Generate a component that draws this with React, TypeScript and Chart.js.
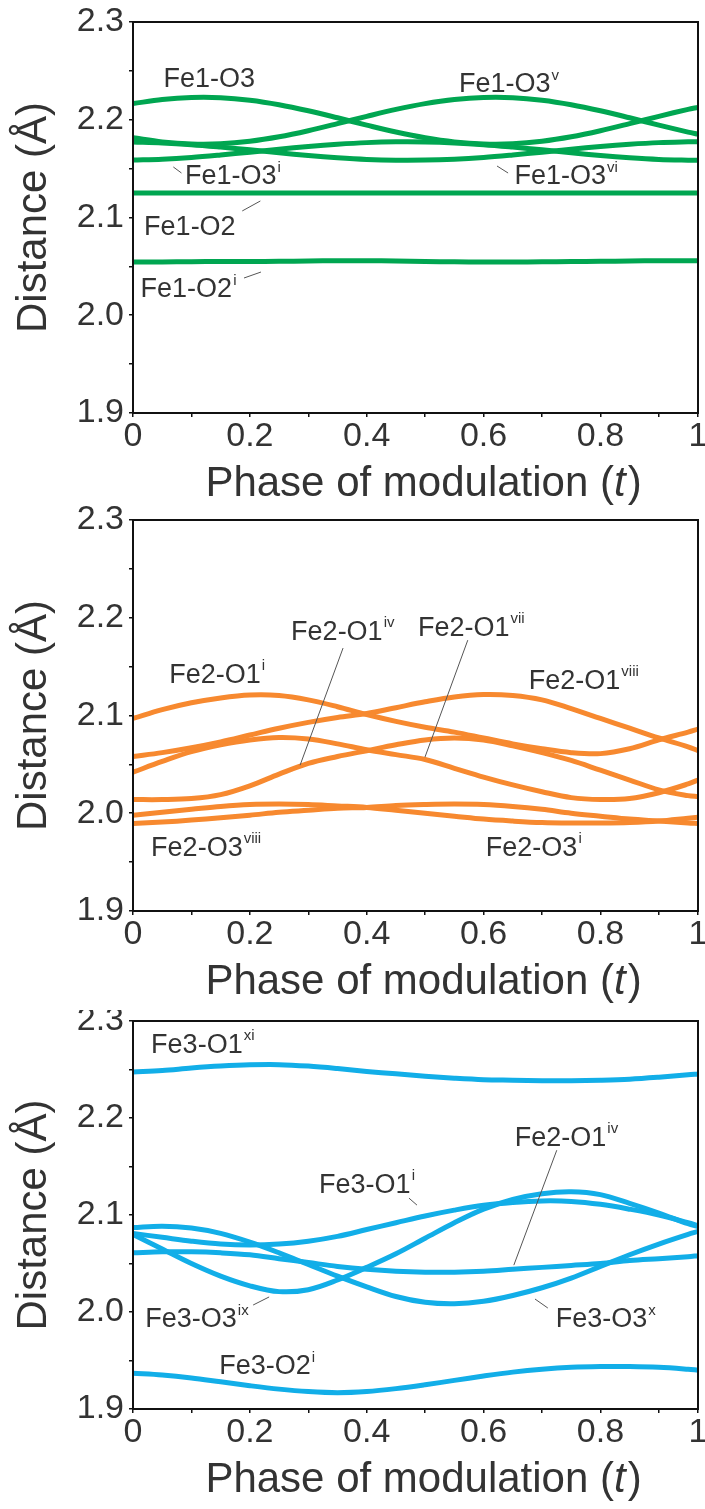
import { useEffect, useRef } from 'react';
import { Chart, registerables } from 'chart.js';

Chart.register(...registerables);

const FONT = '"Liberation Sans", Arial, Helvetica, sans-serif';
const TEXT = '#333333';

// Phase of modulation t at which the distances are sampled; the plotted window ends at T_END
const T = [0, 0.05, 0.1, 0.15, 0.2, 0.25, 0.3, 0.35, 0.4, 0.45, 0.5, 0.55, 0.6, 0.65, 0.7, 0.75, 0.8, 0.85, 0.9, 0.95, 0.967];
const T_END = 0.967;

const Y_TICKS = [1.9, 1.95, 2.0, 2.05, 2.1, 2.15, 2.2, 2.25, 2.3];
const X_TICKS = [0, 0.1, 0.2, 0.3, 0.4, 0.5, 0.6, 0.7, 0.8, 0.9, T_END];

// Fe1 octahedron (Å)
const FE1_O3 = [2.2165, 2.2207, 2.2228, 2.2226, 2.22, 2.2154, 2.2092, 2.202, 2.1945, 2.1874, 2.1815, 2.1773, 2.1752, 2.1754, 2.178, 2.1826, 2.1888, 2.196, 2.2035, 2.2106, 2.2127];
const FE1_O3_V = [2.1815, 2.1773, 2.1752, 2.1754, 2.178, 2.1826, 2.1888, 2.196, 2.2035, 2.2106, 2.2165, 2.2207, 2.2228, 2.2226, 2.22, 2.2154, 2.2092, 2.202, 2.1945, 2.1874, 2.1853];
const FE1_O3_VI = [2.1773, 2.1763, 2.1745, 2.172, 2.1692, 2.1662, 2.1634, 2.1611, 2.1594, 2.1586, 2.1587, 2.1597, 2.1615, 2.164, 2.1668, 2.1698, 2.1726, 2.1749, 2.1766, 2.1774, 2.1775];
const FE1_O3_I = [2.1587, 2.1597, 2.1615, 2.164, 2.1668, 2.1698, 2.1726, 2.1749, 2.1766, 2.1774, 2.1773, 2.1763, 2.1745, 2.172, 2.1692, 2.1662, 2.1634, 2.1611, 2.1594, 2.1586, 2.1585];
const FE1_O2 = [2.125, 2.125, 2.125, 2.125, 2.125, 2.125, 2.125, 2.125, 2.125, 2.125, 2.125, 2.125, 2.125, 2.125, 2.125, 2.125, 2.125, 2.125, 2.125, 2.125, 2.125];
const FE1_O2_I = [2.0545, 2.0545, 2.0548, 2.055, 2.055, 2.0552, 2.0555, 2.0558, 2.0558, 2.0555, 2.055, 2.0547, 2.0545, 2.0545, 2.0547, 2.055, 2.0552, 2.0555, 2.0558, 2.0558, 2.0558];

// Fe2 octahedron (Å)
const FE2_O1_I = [2.097, 2.106, 2.113, 2.118, 2.121, 2.1205, 2.116, 2.109, 2.101, 2.094, 2.088, 2.083, 2.077, 2.071, 2.066, 2.062, 2.061, 2.066, 2.075, 2.083, 2.086];
const FE2_O1_VIII = [2.058, 2.062, 2.067, 2.073, 2.08, 2.087, 2.093, 2.098, 2.102, 2.108, 2.114, 2.119, 2.1215, 2.1205, 2.116, 2.107, 2.097, 2.087, 2.077, 2.068, 2.064];
const FE2_O1_VII = [2.042, 2.053, 2.063, 2.07, 2.075, 2.0775, 2.076, 2.071, 2.065, 2.06, 2.055, 2.046, 2.037, 2.029, 2.022, 2.016, 2.014, 2.015, 2.021, 2.03, 2.034];
const FE2_O1_IV = [2.014, 2.014, 2.015, 2.019, 2.028, 2.04, 2.051, 2.058, 2.064, 2.07, 2.075, 2.077, 2.075, 2.069, 2.062, 2.054, 2.044, 2.034, 2.024, 2.018, 2.017];
const FE2_O3_VIII = [1.998, 2.001, 2.004, 2.007, 2.009, 2.0095, 2.009, 2.0075, 2.006, 2.003, 2.0, 1.997, 1.994, 1.992, 1.9905, 1.99, 1.99, 1.9905, 1.992, 1.995, 1.996];
const FE2_O3_I = [1.9895, 1.991, 1.993, 1.9955, 1.998, 2.001, 2.003, 2.005, 2.006, 2.008, 2.009, 2.0095, 2.009, 2.007, 2.004, 2.0, 1.997, 1.994, 1.992, 1.99, 1.9895];

// Fe3 polyhedron (Å)
const FE3_O1_XI = [2.2475, 2.249, 2.2515, 2.2535, 2.2548, 2.255, 2.2535, 2.251, 2.248, 2.2455, 2.243, 2.241, 2.2395, 2.239, 2.2385, 2.2385, 2.239, 2.24, 2.242, 2.2445, 2.2455];
const FE3_O1_I = [2.081, 2.077, 2.073, 2.07, 2.069, 2.07, 2.073, 2.078, 2.085, 2.092, 2.099, 2.105, 2.11, 2.113, 2.1145, 2.114, 2.111, 2.106, 2.1, 2.092, 2.089];
const FE3_O3_X = [2.087, 2.0885, 2.0865, 2.081, 2.072, 2.061, 2.049, 2.037, 2.026, 2.016, 2.01, 2.0085, 2.011, 2.017, 2.025, 2.035, 2.047, 2.059, 2.07, 2.08, 2.083];
const FE3_O3_IX = [2.08, 2.065, 2.05, 2.037, 2.027, 2.021, 2.023, 2.033, 2.046, 2.06, 2.076, 2.092, 2.106, 2.116, 2.122, 2.124, 2.121, 2.112, 2.102, 2.091, 2.088];
const FE3_FE2_O1_IV = [2.061, 2.062, 2.062, 2.061, 2.059, 2.055, 2.051, 2.047, 2.044, 2.042, 2.041, 2.041, 2.042, 2.044, 2.046, 2.048, 2.05, 2.053, 2.055, 2.057, 2.058];
const FE3_O2_I = [1.9368, 1.935, 1.932, 1.928, 1.924, 1.9205, 1.918, 1.9168, 1.918, 1.921, 1.925, 1.9295, 1.934, 1.938, 1.941, 1.943, 1.9438, 1.9438, 1.943, 1.941, 1.94];

type Note = { text: string; sup: string; t: number; v: number; leader?: [number, number, number, number] };

const FE1_NOTES: Note[] = [
  { text: 'Fe1-O3', sup: '', t: 0.052, v: 2.2407 },
  { text: 'Fe1-O3', sup: 'v', t: 0.558, v: 2.2356 },
  { text: 'Fe1-O3', sup: 'i', t: 0.089, v: 2.1414, leader: [0.069, 2.1517, 0.083, 2.1455] },
  { text: 'Fe1-O3', sup: 'vi', t: 0.653, v: 2.1414, leader: [0.623, 2.1527, 0.642, 2.1455] },
  { text: 'Fe1-O2', sup: '', t: 0.019, v: 2.0893, leader: [0.187, 2.1067, 0.218, 2.1169] },
  { text: 'Fe1-O2', sup: 'i', t: 0.013, v: 2.0258, leader: [0.19, 2.0381, 0.219, 2.0442] },
];

const FE2_NOTES: Note[] = [
  { text: 'Fe2-O1', sup: 'i', t: 0.062, v: 2.1413 },
  { text: 'Fe2-O1', sup: 'iv', t: 0.2706, v: 2.1853, leader: [0.3595, 2.169, 0.286, 2.0492] },
  { text: 'Fe2-O1', sup: 'vii', t: 0.4877, v: 2.1894, leader: [0.573, 2.1771, 0.4997, 2.0574] },
  { text: 'Fe2-O1', sup: 'viii', t: 0.6774, v: 2.1352 },
  { text: 'Fe2-O3', sup: 'viii', t: 0.031, v: 1.9642 },
  { text: 'Fe2-O3', sup: 'i', t: 0.6039, v: 1.9642 },
];

const FE3_NOTES: Note[] = [
  { text: 'Fe3-O1', sup: 'xi', t: 0.031, v: 2.275 },
  { text: 'Fe2-O1', sup: 'iv', t: 0.6535, v: 2.1792, leader: [0.7253, 2.1668, 0.6518, 2.0483] },
  { text: 'Fe3-O1', sup: 'i', t: 0.3185, v: 2.1308, leader: [0.4723, 2.1174, 0.486, 2.1102] },
  { text: 'Fe3-O3', sup: 'ix', t: 0.021, v: 1.9918, leader: [0.2056, 2.0072, 0.233, 2.0155] },
  { text: 'Fe3-O3', sup: 'x', t: 0.7236, v: 1.9918, leader: [0.688, 2.0134, 0.71, 2.0041] },
  { text: 'Fe3-O2', sup: 'i', t: 0.1476, v: 1.9434 },
];

type PanelCfg = {
  top: number;
  height: number;
  areaTop: number;
  areaBottom: number;
  color: string;
  series: number[][];
  notes: Note[];
};

const PANELS: PanelCfg[] = [
  { top: 0, height: 505, areaTop: 22, areaBottom: 413, color: '#00a651', series: [FE1_O3, FE1_O3_V, FE1_O3_VI, FE1_O3_I, FE1_O2, FE1_O2_I], notes: FE1_NOTES },
  { top: 505, height: 505, areaTop: 15, areaBottom: 406, color: '#f7892f', series: [FE2_O1_I, FE2_O1_VIII, FE2_O1_VII, FE2_O1_IV, FE2_O3_VIII, FE2_O3_I], notes: FE2_NOTES },
  { top: 1010, height: 499, areaTop: 11, areaBottom: 399, color: '#12aee8', series: [FE3_O1_XI, FE3_O1_I, FE3_O3_X, FE3_O3_IX, FE3_FE2_O1_IV, FE3_O2_I], notes: FE3_NOTES },
];

const AREA_LEFT = 133;
const AREA_RIGHT = 698;
const WIDTH = 705;

const framePlugin = {
  id: 'frame',
  afterDatasetsDraw(chart: any) {
    const { ctx, chartArea: a } = chart;
    ctx.save();
    ctx.strokeStyle = '#111111';
    ctx.lineWidth = 2;
    ctx.strokeRect(a.left, a.top, a.right - a.left, a.bottom - a.top);
    ctx.restore();
  },
};

const xTitlePlugin = {
  id: 'xTitle',
  afterDraw(chart: any) {
    const { ctx, chartArea: a } = chart;
    const parts: [string, boolean][] = [['Phase of modulation (', false], ['t', true], [')', false]];
    ctx.save();
    ctx.fillStyle = TEXT;
    ctx.textBaseline = 'middle';
    ctx.textAlign = 'left';
    const fontFor = (it: boolean) => `${it ? 'italic ' : ''}42px ${FONT}`;
    let total = 0;
    for (const [s, it] of parts) {
      ctx.font = fontFor(it);
      total += ctx.measureText(s).width;
    }
    let x = (a.left + a.right) / 2 + 7 - total / 2;
    const y = a.bottom + 71;
    for (const [s, it] of parts) {
      ctx.font = fontFor(it);
      ctx.fillText(s, x, y);
      x += ctx.measureText(s).width + (it ? 2 : 0);
    }
    ctx.restore();
  },
};

function notesPlugin(notes: Note[]) {
  return {
    id: 'notes',
    afterDraw(chart: any) {
      const { ctx } = chart;
      const xs = chart.scales.x;
      const ys = chart.scales.y;
      ctx.save();
      for (const n of notes) {
        if (n.leader) {
          const [t1, v1, t2, v2] = n.leader;
          ctx.strokeStyle = '#555555';
          ctx.lineWidth = 1;
          ctx.beginPath();
          ctx.moveTo(xs.getPixelForValue(t1), ys.getPixelForValue(v1));
          ctx.lineTo(xs.getPixelForValue(t2), ys.getPixelForValue(v2));
          ctx.stroke();
        }
        const px = xs.getPixelForValue(n.t);
        const py = ys.getPixelForValue(n.v);
        ctx.fillStyle = TEXT;
        ctx.textBaseline = 'middle';
        ctx.textAlign = 'left';
        ctx.font = `27px ${FONT}`;
        ctx.fillText(n.text, px, py);
        if (n.sup) {
          const w = ctx.measureText(n.text).width;
          ctx.font = `15px ${FONT}`;
          ctx.fillText(n.sup, px + w + 1, py - 9);
        }
      }
      ctx.restore();
    },
  };
}

function Panel({ cfg }: { cfg: PanelCfg }) {
  const ref = useRef<HTMLCanvasElement>(null);

  useEffect(() => {
    const canvas = ref.current;
    if (!canvas) return;
    const xAxisHeight = cfg.height - cfg.areaBottom;
    const chart = new Chart(canvas, {
      type: 'line',
      data: {
        datasets: cfg.series.map((vals) => ({
          data: T.map((t, i) => ({ x: t, y: vals[i] })),
          borderColor: cfg.color,
          borderWidth: 5,
          pointRadius: 0,
          tension: 0.35,
          fill: false,
        })),
      },
      options: {
        animation: false,
        responsive: false,
        devicePixelRatio: 1,
        events: [],
        layout: { padding: { top: cfg.areaTop, left: 0, right: WIDTH - AREA_RIGHT, bottom: 0 } },
        plugins: { legend: { display: false }, tooltip: { enabled: false } },
        scales: {
          x: {
            type: 'linear',
            min: 0,
            max: T_END,
            afterBuildTicks: (s: any) => {
              s.ticks = X_TICKS.map((value) => ({ value }));
            },
            afterFit: (s: any) => {
              s.height = xAxisHeight;
              s.paddingLeft = 0;
              s.paddingRight = 0;
            },
            ticks: {
              autoSkip: false,
              maxRotation: 0,
              padding: 3,
              color: TEXT,
              font: { family: FONT, size: 34, lineHeight: 1 },
              callback: (v: any) => {
                const n = Number(v);
                if (n === T_END) return '1';
                const k = Math.round(n * 10);
                if (k % 2 !== 0) return '';
                return k === 0 ? '0' : (k / 10).toFixed(1);
              },
            },
            grid: { drawOnChartArea: false, drawTicks: true, tickLength: 4, color: '#111111', lineWidth: 1.5 },
            border: { display: false },
          },
          y: {
            type: 'linear',
            min: 1.9,
            max: 2.3,
            afterBuildTicks: (s: any) => {
              s.ticks = Y_TICKS.map((value) => ({ value }));
            },
            afterFit: (s: any) => {
              s.width = AREA_LEFT;
              s.paddingTop = 0;
              s.paddingBottom = 0;
            },
            ticks: {
              autoSkip: false,
              padding: 5,
              color: TEXT,
              font: { family: FONT, size: 34, lineHeight: 1 },
              callback: (v: any) => {
                const n = Number(v);
                const k = Math.round(n * 100);
                return k % 10 === 0 ? (k / 100).toFixed(1) : '';
              },
            },
            grid: { drawOnChartArea: false, drawTicks: true, tickLength: 4, color: '#111111', lineWidth: 1.5 },
            border: { display: false },
            title: {
              display: true,
              text: 'Distance (Å)',
              color: TEXT,
              font: { family: FONT, size: 42, lineHeight: 1.2 },
              padding: { top: 9, bottom: 0 },
            },
          },
        },
      },
      plugins: [framePlugin, notesPlugin(cfg.notes), xTitlePlugin],
    } as any);
    return () => chart.destroy();
  }, [cfg]);

  return (
    <canvas
      ref={ref}
      width={WIDTH}
      height={cfg.height}
      style={{ position: 'absolute', left: 0, top: cfg.top, width: WIDTH, height: cfg.height, display: 'block' }}
    />
  );
}

export default function App() {
  return (
    <div style={{ position: 'absolute', left: 0, top: 0, width: WIDTH, height: 1509, background: '#ffffff', overflow: 'hidden' }}>
      {PANELS.map((p, i) => (
        <Panel key={i} cfg={p} />
      ))}
    </div>
  );
}
